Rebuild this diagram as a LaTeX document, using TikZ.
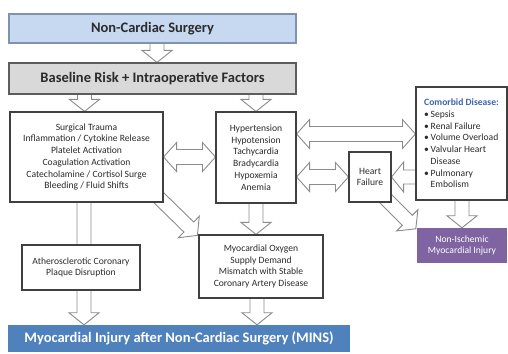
\documentclass[tikz,border=0pt]{standalone}
\usepackage{fontspec}
\setmainfont{Carlito}
\usetikzlibrary{calc}
\pgfdeclarelayer{bg}
\pgfsetlayers{bg,main}
\definecolor{topfill}{HTML}{C6D9F1}
\definecolor{topline}{HTML}{7F93B0}
\definecolor{greyfill}{HTML}{D9D9D9}
\definecolor{boxline}{HTML}{404040}
\definecolor{textc}{HTML}{2B2B2B}
\definecolor{arrowgray}{HTML}{8C8C8C}
\definecolor{minsblue}{HTML}{4F81BD}
\definecolor{nonipurple}{HTML}{8064A2}
\definecolor{headblue}{HTML}{3B64AD}
\tikzset{
  x=1pt,y=1pt,
  tbox/.style={draw=boxline, line width=1.1pt, fill=white, text=textc,
    font=\fontsize{9.6}{11.7}\selectfont, align=center, inner sep=2pt},
  blockarrow/.style={draw=arrowgray, fill=white, line width=0.9pt, line join=miter},
}
\newcommand\FatMeasure[2]{%
  \path let \p1=(#1), \p2=(#2) in \pgfextra{%
    \pgfmathsetmacro\fatang{atan2(\y2-\y1,\x2-\x1)}%
    \pgfmathsetmacro\fatlen{veclen(\x2-\x1,\y2-\y1)}%
    \global\let\FatAng\fatang \global\let\FatLen\fatlen};%
}
\newcommand\fatarrow[2]{%
  \FatMeasure{#1}{#2}%
  \draw[blockarrow,shift={(#1)},rotate=\FatAng]
    (0,-7) -- (\FatLen-12,-7) -- (\FatLen-12,-15) -- (\FatLen,0)
    -- (\FatLen-12,15) -- (\FatLen-12,7) -- (0,7) -- cycle;%
}
\newcommand\fatdarrow[2]{%
  \FatMeasure{#1}{#2}%
  \draw[blockarrow,shift={(#1)},rotate=\FatAng]
    (0,0) -- (13,14.5) -- (13,7.5) -- (\FatLen-13,7.5) -- (\FatLen-13,14.5)
    -- (\FatLen,0) -- (\FatLen-13,-14.5) -- (\FatLen-13,-7.5) -- (13,-7.5)
    -- (13,-14.5) -- cycle;%
}
\begin{document}
\begin{tikzpicture}
\useasboundingbox (0,0) rectangle (508,353);

% boxes
\node[draw=topline, line width=1.1pt, fill=topfill, text=textc,
  font=\fontsize{14.5}{16}\selectfont\bfseries, minimum width=287, minimum height=29]
  (top) at (152.5,324.5) {Non-Cardiac Surgery};
\node[draw=boxline!85, line width=1.1pt, fill=greyfill, text=textc,
  font=\fontsize{14.5}{16}\selectfont\bfseries, minimum width=287, minimum height=31]
  (base) at (152.5,274.5) {Baseline Risk + Intraoperative Factors};
\node[tbox, minimum width=153, minimum height=90] (left) at (86.5,196)
  {Surgical Trauma\\Inflammation / Cytokine Release\\Platelet Activation\\Coagulation Activation\\Catecholamine / Cortisol Surge\\Bleeding / Fluid Shifts};
\node[tbox, minimum width=80, minimum height=91] (mid) at (256,195.5)
  {Hypertension\\Hypotension\\Tachycardia\\Bradycardia\\Hypoxemia\\Anemia};
\node[tbox, align=left, minimum width=91, minimum height=113] (com) at (461.5,209.5)
  {{\color{headblue}\bfseries Comorbid Disease:}\\
   \makebox[6.5pt][l]{\textbullet}Sepsis\\
   \makebox[6.5pt][l]{\textbullet}Renal Failure\\
   \makebox[6.5pt][l]{\textbullet}Volume Overload\\
   \makebox[6.5pt][l]{\textbullet}Valvular Heart\\
   \hspace*{6.5pt}Disease\\
   \makebox[6.5pt][l]{\textbullet}Pulmonary\\
   \hspace*{6.5pt}Embolism};
\node[tbox, minimum width=42, minimum height=50] (hf) at (370,176) {Heart\\Failure};
\node[fill=nonipurple, text=white, font=\fontsize{9.6}{11.7}\selectfont, align=center,
  minimum width=90, minimum height=35] (noni) at (462,107.5) {Non-Ischemic\\Myocardial Injury};
\node[tbox, minimum width=118, minimum height=45] (ath) at (81,85.5)
  {Atherosclerotic Coronary\\Plaque Disruption};
\node[tbox, minimum width=124, minimum height=63] (oxy) at (261,86.5)
  {Myocardial Oxygen\\Supply Demand\\Mismatch with Stable\\Coronary Artery Disease};
\node[fill=minsblue, text=white, font=\fontsize{14.5}{16}\selectfont\bfseries,
  minimum width=342, minimum height=27] (mins) at (179,14.5)
  {Myocardial Injury after Non-Cardiac Surgery (MINS)};

% block arrows (behind the boxes)
\begin{pgfonlayer}{bg}
\fill[white] (0,0) rectangle (508,353);
\fatarrow{$(top.south)+(4.5,0)$}{$(base.north)+(4.5,0)$}
\fatarrow{$(base.south -| left.north)+(-2,0)$}{$(left.north)+(-2,0)$}
\fatarrow{base.south -| mid.north}{mid.north}
\fatdarrow{left.east}{mid.west |- left.east}
\fatdarrow{$(mid.east)+(0,23.5)$}{$(com.west |- mid.east)+(0,23.5)$}
\fatdarrow{mid.east |- hf.west}{hf.west}
\fatarrow{com.west |- hf.east}{hf.east}
\fatarrow{$(hf.south east)+(-8,6)$}{$(noni.north west)+(-1,-1)$}
\fatarrow{noni.north |- com.south}{noni.north}
\fatarrow{$(left.south)+(-2.5,0)$}{$(mins.north -| left.south)+(-2.5,0)$}
\fatarrow{$(left.south east)+(-8,8)$}{$(oxy.north west)+(-1,-1)$}
\fatarrow{mid.south}{oxy.north -| mid.south}
\fatarrow{$(oxy.south -| mid.south)+(1,0)$}{$(mins.north -| mid.south)+(1,0)$}
\end{pgfonlayer}
\end{tikzpicture}
\end{document}
